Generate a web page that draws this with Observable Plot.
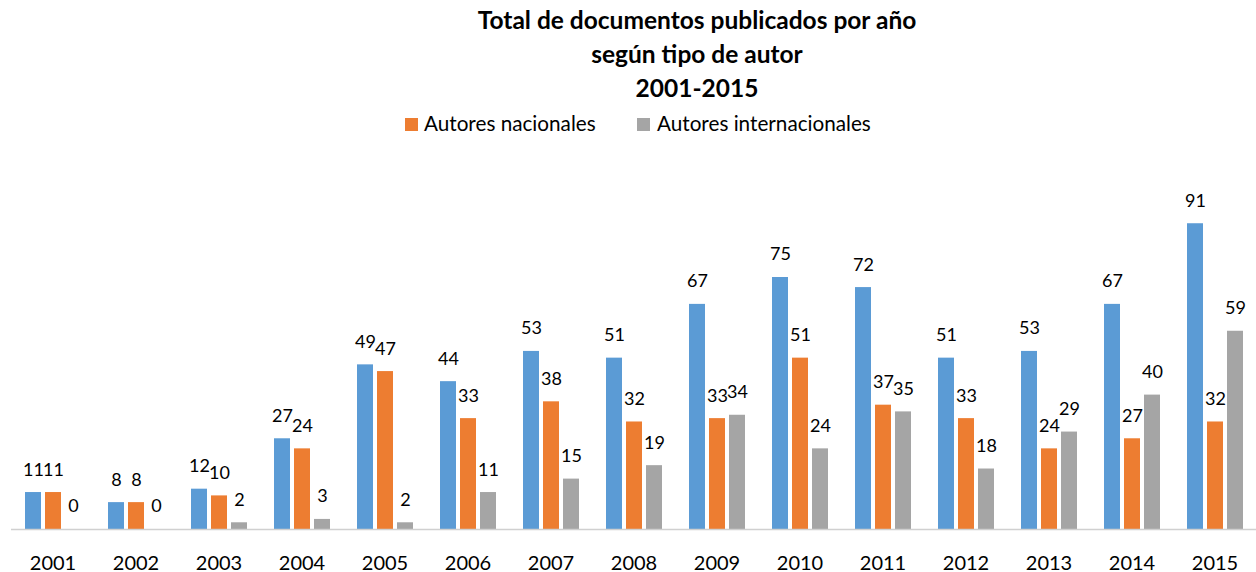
<!DOCTYPE html>
<html>
<head>
<meta charset="utf-8">
<script src="https://cdn.jsdelivr.net/npm/d3@7"></script>
<script src="https://cdn.jsdelivr.net/npm/@observablehq/plot@0.6"></script>
<style>
  html, body { margin: 0; padding: 0; background: #fff; overflow: hidden; }
  #wrap { position: relative; width: 1256px; height: 572px; font-family: Lato, "Open Sans", sans-serif; color: #000; }
  #header { position: relative; width: 1256px; height: 140px; }
  #title { position: absolute; left: 138px; top: 2.5px; width: 1118px; text-align: center; font-weight: bold; font-size: 24.5px; line-height: 34px; }
  .sw { position: absolute; width: 13px; height: 13px; }
  .lt { position: absolute; font-size: 20.7px; line-height: 20.7px; white-space: nowrap; }
</style>
</head>
<body>
<div id="wrap">
  <div id="header">
    <div id="title">Total de documentos publicados por año<br>según tipo de autor<br>2001-2015</div>
    <div class="sw" style="left:405px; top:118px; background:#ED7D31"></div>
    <div class="lt" id="l1" style="left:424px; top:112.6px;"></div>
    <div class="sw" style="left:637px; top:118px; background:#A5A5A5"></div>
    <div class="lt" id="l2" style="left:657px; top:112.6px;"></div>
  </div>
  <div id="chart"></div>
</div>
<script>
const years = ["2001","2002","2003","2004","2005","2006","2007","2008","2009","2010","2011","2012","2013","2014","2015"];
const series = ["Total", "Autores nacionales", "Autores internacionales"];
const colors = ["#5B9BD5", "#ED7D31", "#A5A5A5"];
const total = [11, 8, 12, 27, 49, 44, 53, 51, 67, 75, 72, 51, 53, 67, 91];
const nacionales = [11, 8, 10, 24, 47, 33, 38, 32, 33, 51, 37, 33, 24, 27, 32];
const internacionales = [0, 0, 2, 3, 2, 11, 15, 19, 34, 24, 35, 18, 29, 40, 59];

document.getElementById("l1").textContent = series[1];
document.getElementById("l2").textContent = series[2];

const values = [total, nacionales, internacionales];
const data = [];
years.forEach((y, i) => {
  series.forEach((s, j) => data.push({year: y, serie: s, value: values[j][i]}));
});

const chart = Plot.plot({
  width: 1256,
  height: 432,
  marginLeft: 10,
  marginRight: 0,
  marginTop: 53,
  marginBottom: 43,
  style: {fontFamily: "Lato, 'Open Sans', sans-serif", color: "#000", background: "#fff"},
  fx: {domain: years, padding: 0, label: null, tickSize: 0, tickPadding: 25.8},
  x: {domain: series, paddingInner: 0.205, paddingOuter: 0.58, axis: null},
  y: {domain: [0, 100], axis: null},
  color: {domain: series, range: colors},
  marks: [
    Plot.barY(data, {fx: "year", x: "serie", y: "value", fill: "serie"}),
    Plot.ruleY([0], {stroke: "#D0D0D0", strokeWidth: 1.5}),
    Plot.text(data, {fx: "year", x: "serie", y: "value", text: d => String(d.value), dy: -22.8, fontSize: 18, fill: "#000"})
  ]
});
chart.querySelectorAll("g[aria-label='fx-axis tick label']").forEach(g => {
  g.setAttribute("font-size", 20);
  g.style.fontSize = "20px";
  g.querySelectorAll("text").forEach(t => { t.setAttribute("font-size", 20); t.style.fontSize = "20px"; });
});
document.getElementById("chart").appendChild(chart);
</script>
</body>
</html>
